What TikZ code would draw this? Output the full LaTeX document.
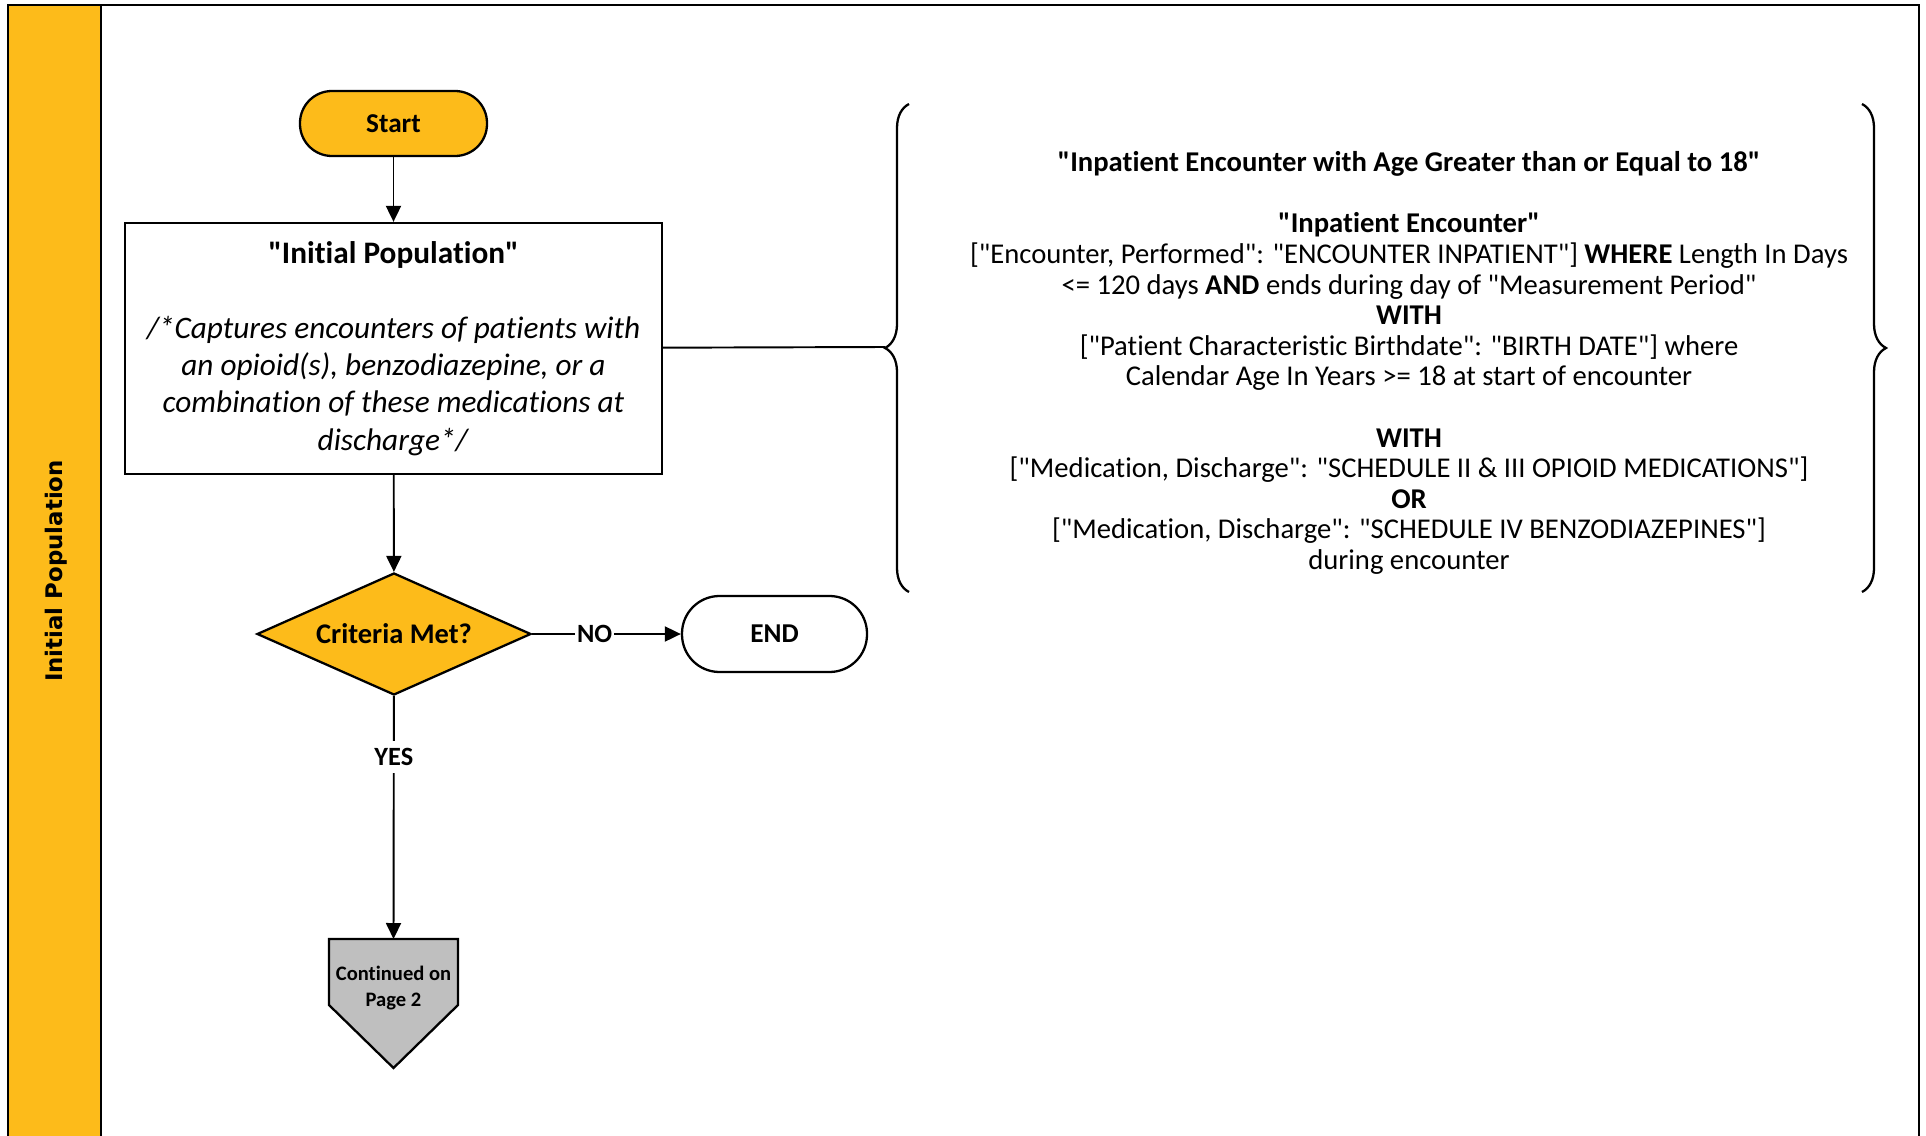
\documentclass[tikz,border=0pt]{standalone}
\usepackage{fontspec}
\setmainfont{Carlito}[Ligatures={TeXOff,NoCommon}]
\newfontfamily\lanefont{DejaVu Sans}
\usepackage{xcolor}
\usepackage{tikz}
\usetikzlibrary{shapes,arrows,positioning,calc,decorations.pathreplacing,arrows.meta}
\definecolor{laneyellow}{HTML}{FDBB1A}
\definecolor{pagegray}{HTML}{BFBFBF}

\tikzset{
    terminal/.style={draw, line width=1.3pt, rounded corners=6.4mm, minimum width=37.4mm, minimum height=13mm, font=\fontsize{15.5}{18}\selectfont\bfseries},
    process/.style={draw, line width=1.3pt, minimum width=107.4mm, minimum height=50.2mm, align=center, font=\fontsize{17.8}{21.3}\selectfont},
    decision/.style={draw, diamond, aspect=2.25, inner sep=0pt, line width=1.3pt, fill=laneyellow, minimum width=54.8mm, minimum height=24.4mm, font=\fontsize{16.2}{18}\selectfont\bfseries},
    flow/.style={line width=1.1pt, -{Triangle[length=3.2mm, width=3mm]}},
    lbl/.style={fill=white, inner sep=1pt, font=\fontsize{15}{18}\selectfont\bfseries},
    bracket/.style={line width=1.3pt, decorate, decoration={brace, amplitude=4.8mm}}
}

\begin{document}
\begin{tikzpicture}[x=0.2mm, y=-0.2mm]
        \useasboundingbox (0,0) rectangle (1926,1136);
        \fill[laneyellow] (9,5) rectangle (101,1136);
        \draw[line width=1.4pt] (8,1136) -- (8,5) -- (1919,5) -- (1919,1136);
        \draw[line width=1.2pt] (101,5) -- (101,1136);
        \node[rotate=90, font=\lanefont\fontsize{13}{15}\selectfont\bfseries] (lane) at (56,571) {Initial Population};

        \node[terminal, fill=laneyellow] (start) at (393.5,123.5) {Start};
        \node[process] (initpop) at (393.5,348.5) {\textbf{"Initial Population"}\\[21.3pt]
            \textit{/*Captures encounters of patients with}\\
            \textit{an opioid(s), benzodiazepine, or a}\\
            \textit{combination of these medications at}\\
            \textit{discharge*/}};
        \node[decision] (crit) at (394,634) {Criteria Met?};
        \node[terminal, fill=white, minimum width=37mm, minimum height=15.2mm, rounded corners=7.5mm] (end) at (774.5,634) {END};

        \coordinate (conttop) at (393.5,939);
        \draw[line width=1.3pt, fill=pagegray] (329,939) -- (458,939) -- (458,1005) -- (393.5,1068) -- (329,1005) -- cycle;
        \node[align=center, font=\fontsize{11.7}{14.8}\selectfont\bfseries] (cont) at (393.5,988) {Continued on\\Page 2};

        \draw[flow] (start) -- (initpop);
        \draw[flow] (initpop) -- (crit);
        \draw[flow] (crit) -- node[lbl, pos=0.42] {NO} (end);
        \draw[flow] (crit) -- node[lbl, pos=0.25, inner sep=4pt] {YES} (conttop);

        \coordinate (lbrace) at (885,347);
        \draw[line width=1.1pt] (initpop) -- (lbrace);
        \draw[bracket] (909,592) -- (909,104);
        \draw[bracket] (1862,104) -- (1862,592);

        \node[align=center, font=\fontsize{16.3}{17.4}\selectfont] (crit text) at (1409,363) {\textbf{"Inpatient Encounter with Age Greater than or Equal to 18"}\\[17.4pt]
            \textbf{"Inpatient Encounter"}\\
            {}["Encounter, Performed": "ENCOUNTER INPATIENT"] \textbf{WHERE} Length In Days\\
            <= 120 days \textbf{AND} ends during day of "Measurement Period"\\
            \textbf{WITH}\\
            {}["Patient Characteristic Birthdate": "BIRTH DATE"] where\\
            Calendar Age In Years >= 18 at start of encounter\\[17.4pt]
            \textbf{WITH}\\
            {}["Medication, Discharge": "SCHEDULE II \& III OPIOID MEDICATIONS"]\\
            \textbf{OR}\\
            {}["Medication, Discharge": "SCHEDULE IV BENZODIAZEPINES"]\\
            during encounter};
    \end{tikzpicture}
\end{document}
